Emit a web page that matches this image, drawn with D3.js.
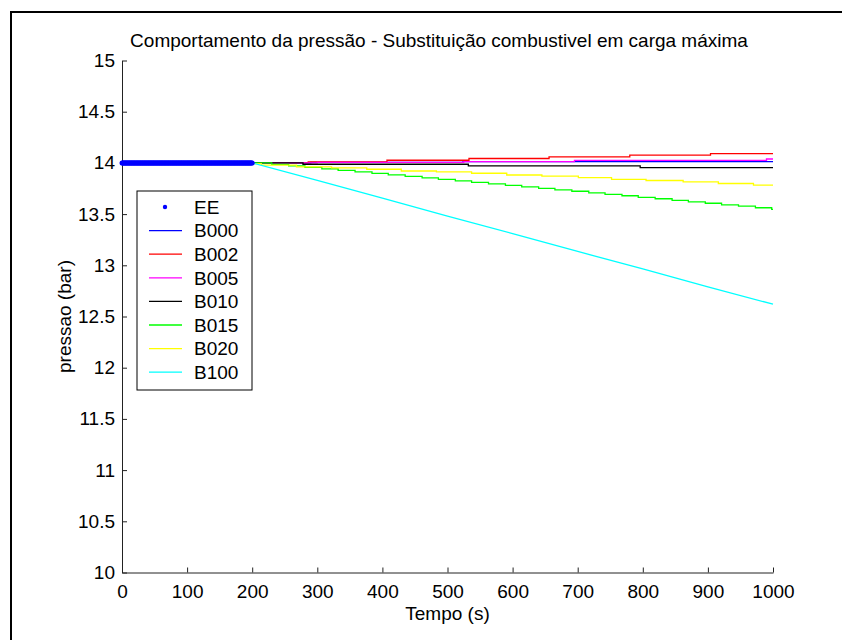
<!DOCTYPE html>
<html><head><meta charset="utf-8">
<script src="https://cdn.jsdelivr.net/npm/d3@7"></script>
<style>
body{margin:0;background:#fff}
svg{display:block}
text{font-family:"Liberation Sans",Arial,Helvetica,sans-serif;fill:#000}
</style>
</head><body>
<svg id="chart" width="842" height="640"></svg>
<script>
// ---- data ----
const titleText = "Comportamento da pressão - Substituição combustivel em carga máxima";
const xLabelText = "Tempo (s)";
const yLabelText = "pressao (bar)";
const xTicks = [0, 100, 200, 300, 400, 500, 600, 700, 800, 900, 1000];
const yTicks = [10, 10.5, 11, 11.5, 12, 12.5, 13, 13.5, 14, 14.5, 15];
const legendNames = ["EE", "B000", "B002", "B005", "B010", "B015", "B020", "B100"];
const legendColors = ["#0000ff", "#0000ff", "#ff0000", "#ff00ff", "#000000", "#00ff00", "#ffff00", "#00ffff"];

// EE: steady state points, 0..200 s at 14 bar
const eeTime = d3.range(0, 201, 1);
const eeValue = 14;

const b000Time  = [200, 290, 524, 1000];
const b000Value = [14.000, 14.005, 14.012, 14.012];

const b002Time  = [200, 286, 407, 533, 656, 780, 904, 1000];
const b002Value = [14.003, 14.010, 14.026, 14.043, 14.059, 14.075, 14.090, 14.090];

const b005Time  = [200, 300, 525, 695, 990, 1000];
const b005Value = [14.000, 14.005, 14.012, 14.024, 14.038, 14.038];

const b010Time  = [200, 278, 532, 796, 1000];
const b010Value = [14.000, 13.987, 13.970, 13.953, 13.953];

const b015Time  = [200, 230, 256, 281, 307, 332, 358, 384, 409, 435, 461, 486, 512, 537, 563, 589, 614, 640, 665, 691, 717, 742, 768, 793, 819, 845, 870, 896, 921, 947, 973, 998, 1000];
const b015Value = [14.000, 13.985, 13.971, 13.956, 13.942, 13.927, 13.912, 13.898, 13.883, 13.869, 13.854, 13.839, 13.825, 13.810, 13.796, 13.781, 13.766, 13.752, 13.737, 13.723, 13.708, 13.693, 13.679, 13.664, 13.650, 13.635, 13.620, 13.606, 13.591, 13.577, 13.562, 13.547, 13.547];

const b020Time  = [200, 214, 268, 322, 376, 429, 483, 537, 591, 645, 701, 752, 805, 862, 916, 970, 1000];
const b020Value = [13.993, 13.978, 13.961, 13.951, 13.938, 13.921, 13.912, 13.899, 13.882, 13.870, 13.857, 13.840, 13.828, 13.814, 13.799, 13.782, 13.782];

const b100Time  = [200, 300, 400, 500, 600, 700, 800, 900, 1000];
const b100Value = [14.00, 13.83, 13.655, 13.48, 13.31, 13.135, 12.965, 12.79, 12.62];

// ---- drawing ----
const svg = d3.select("#chart");
const FS = 19;

// outer frame (left + top)
svg.append("line").attr("x1", 11).attr("y1", 12).attr("x2", 11).attr("y2", 640)
  .attr("stroke", "#000").attr("stroke-width", 2);
svg.append("line").attr("x1", 10).attr("y1", 12).attr("x2", 842).attr("y2", 12)
  .attr("stroke", "#000").attr("stroke-width", 2);

const x = d3.scaleLinear().domain([0, 1000]).range([122, 773]);
const y = d3.scaleLinear().domain([10, 15]).range([572.5, 60.5]);

// axes (MATLAB style: inward ticks, only left & bottom)
const xAxis = d3.axisBottom(x).tickValues(xTicks).tickSizeInner(-5).tickSizeOuter(0).tickPadding(11)
  .tickFormat(d3.format("d"));
const yAxis = d3.axisLeft(y).tickValues(yTicks).tickSizeInner(-5).tickSizeOuter(0).tickPadding(11)
  .tickFormat(d3.format("~g"));

const gx = svg.append("g").attr("transform", `translate(0,${y(10)})`).call(xAxis);
const gy = svg.append("g").attr("transform", `translate(${x(0)},0)`).call(yAxis);
[gx, gy].forEach(g => {
  g.select(".domain").attr("stroke", "#222").attr("stroke-width", 1);
  g.selectAll(".tick line").attr("stroke", "#222").attr("stroke-width", 1);
  g.selectAll(".tick text").attr("font-size", FS).attr("font-family", '"Liberation Sans",Arial,sans-serif').attr("fill", "#000");
});
gy.selectAll(".tick text").attr("x", -7);
gx.selectAll(".tick text").attr("dy", "0.71em").attr("y", 12);

// series lines
const stepLine = d3.line().x(d => x(d[0])).y(d => y(d[1])).curve(d3.curveStepAfter);
const linLine = d3.line().x(d => x(d[0])).y(d => y(d[1]));
const series = [
  [b000Time, b000Value, legendColors[1], stepLine],
  [b002Time, b002Value, legendColors[2], stepLine],
  [b005Time, b005Value, legendColors[3], stepLine],
  [b010Time, b010Value, legendColors[4], stepLine],
  [b015Time, b015Value, legendColors[5], stepLine],
  [b020Time, b020Value, legendColors[6], stepLine],
  [b100Time, b100Value, legendColors[7], linLine]
];
series.forEach(([t, v, c, gen]) => {
  svg.append("path").datum(t.map((ti, i) => [ti, v[i]]))
    .attr("d", gen).attr("fill", "none").attr("stroke", c).attr("stroke-width", 1.3);
});

// EE points
svg.append("g").selectAll("circle").data(eeTime).join("circle")
  .attr("cx", d => x(d)).attr("cy", y(eeValue)).attr("r", 2.5).attr("fill", legendColors[0]);

// title & axis labels
svg.append("text").attr("x", 439).attr("y", 47).attr("text-anchor", "middle")
  .attr("font-size", FS).text(titleText);
svg.append("text").attr("x", (x(0) + x(1000)) / 2).attr("y", 620).attr("text-anchor", "middle")
  .attr("font-size", FS).text(xLabelText);
svg.append("text").attr("transform", `translate(71,${(y(10) + y(15)) / 2}) rotate(-90)`)
  .attr("text-anchor", "middle").attr("font-size", FS).text(yLabelText);

// legend
const lg = svg.append("g");
lg.append("rect").attr("x", 137).attr("y", 191).attr("width", 115).attr("height", 199)
  .attr("fill", "#fff").attr("stroke", "#000").attr("stroke-width", 1);
legendNames.forEach((name, i) => {
  const cy = 207 + i * 23.6;
  if (i === 0) {
    lg.append("circle").attr("cx", 165).attr("cy", cy).attr("r", 2.2).attr("fill", legendColors[i]);
  } else {
    lg.append("line").attr("x1", 149).attr("x2", 182).attr("y1", cy).attr("y2", cy)
      .attr("stroke", legendColors[i]).attr("stroke-width", 1.3);
  }
  lg.append("text").attr("x", 194).attr("y", cy + 6.7).attr("font-size", FS).text(name);
});
</script>
</body></html>
